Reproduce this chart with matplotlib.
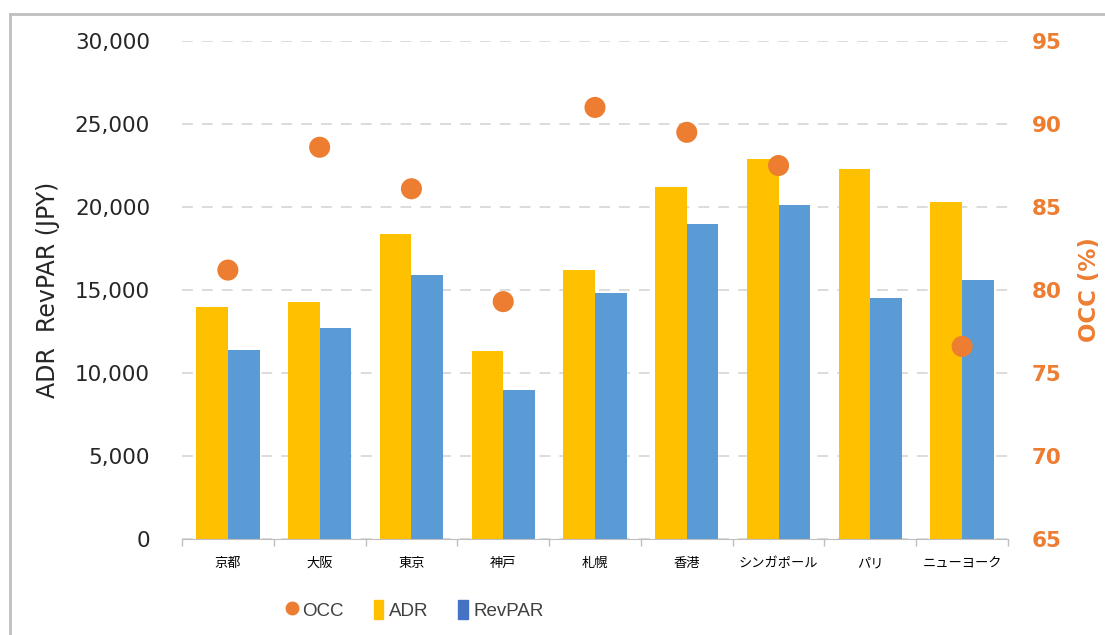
import numpy as np
import matplotlib
matplotlib.use('Agg')
from matplotlib import pyplot as plt
from matplotlib.lines import Line2D
from matplotlib.patches import Patch
from matplotlib.ticker import FuncFormatter

plt.rcParams['font.family'] = ['DejaVu Sans', 'Noto Sans CJK JP']

cities = ['京都', '大阪', '東京', '神戸', '札幌', '香港', 'シンガポール', 'パリ', 'ニューヨーク']
adr = [14000, 14300, 18400, 11300, 16200, 21200, 22900, 22300, 20300]
revpar = [11400, 12700, 15900, 9000, 14800, 19000, 20100, 14500, 15600]
occ = [81.2, 88.6, 86.1, 79.3, 91.0, 89.5, 87.5, np.nan, 76.6]

c_adr = '#FFC000'
c_rev = '#5B9BD5'
c_occ = '#ED7D31'

fig = plt.figure(figsize=(11.05, 6.35), dpi=100)
ax = fig.add_axes([0.1647, 0.1512, 0.9122 - 0.1647, 0.9354 - 0.1512])

x = np.arange(len(cities))
w = 0.345
ax.bar(x - w / 2, adr, w, color=c_adr, zorder=2)
ax.bar(x + w / 2, revpar, w, color=c_rev, zorder=2)

ax.set_xlim(-0.5, len(cities) - 0.5)
ax.set_ylim(0, 30000)
ax.set_yticks(np.arange(0, 30001, 5000))
ax.yaxis.set_major_formatter(FuncFormatter(lambda v, p: f'{int(v):,}'))
ax.grid(axis='y', color='#D9D9D9', linestyle=(0, (6, 5)), linewidth=1.3, zorder=0)
ax.tick_params(axis='y', length=0, pad=23, labelsize=15.5, labelcolor='#262626')

ax.set_xticks(x)
ax.set_xticklabels(cities, fontsize=9.5, family=['Noto Sans CJK JP'])
ax.set_xticks(np.arange(-0.5, len(cities)), minor=True)
ax.tick_params(axis='x', which='major', length=0, pad=13)
ax.tick_params(axis='x', which='minor', length=5, color='#BFBFBF', width=1)

for s in ['top', 'left', 'right']:
    ax.spines[s].set_visible(False)
ax.spines['bottom'].set_color('#BFBFBF')

ax.set_ylabel('ADR  RevPAR (JPY)', fontsize=17, color='#262626', labelpad=11)

ax2 = ax.twinx()
ax2.scatter(x, occ, s=230, color=c_occ, zorder=3, edgecolors='none')
ax2.set_ylim(65, 95)
ax2.set_yticks(np.arange(65, 96, 5))
ax2.tick_params(axis='y', length=0, pad=17, labelsize=15.5, labelcolor=c_occ)
for lab in ax2.get_yticklabels():
    lab.set_fontweight('bold')
for s in ['top', 'left', 'right', 'bottom']:
    ax2.spines[s].set_visible(False)
ax2.set_ylabel('OCC (%)', fontsize=16.5, color=c_occ, fontweight='bold', labelpad=12)

handles = [
    Line2D([], [], marker='o', linestyle='none', markersize=9, color=c_occ),
    Patch(color=c_adr),
    Patch(color='#4472C4'),
]
fig.legend(handles, ['OCC', 'ADR', 'RevPAR'], loc='center', bbox_to_anchor=(0.376, 0.039),
           ncol=3, frameon=False, prop={'family': 'Liberation Sans', 'size': 13.5},
           handlelength=0.5, handleheight=1.2, handletextpad=0.3, columnspacing=1.6,
           labelcolor='#404040')

# chart frame
fig.add_artist(Line2D([10 / 1105, 10 / 1105], [0, 1 - 14 / 635], color='#BFBFBF', linewidth=2,
                      transform=fig.transFigure))
fig.add_artist(Line2D([10 / 1105, 1], [1 - 14 / 635, 1 - 14 / 635], color='#BFBFBF', linewidth=2,
                      transform=fig.transFigure))

fig.savefig('out.png', dpi=100)
